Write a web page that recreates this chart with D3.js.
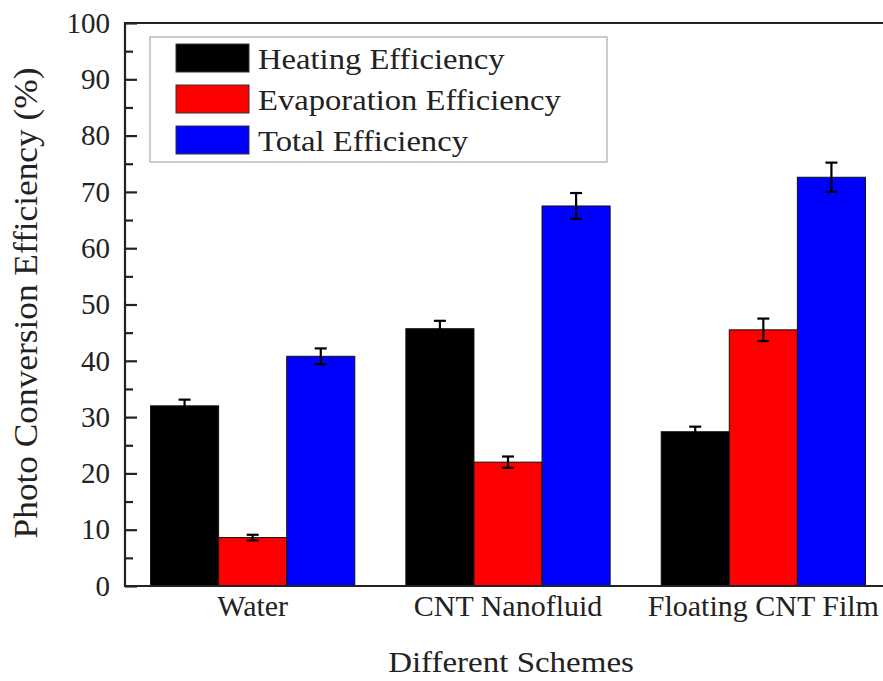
<!DOCTYPE html>
<html>
<head>
<meta charset="utf-8">
<script src="https://cdn.jsdelivr.net/npm/d3@7"></script>
<style>
  html, body { margin: 0; padding: 0; background: #fff; }
  svg { display: block; }
  text { font-family: "Liberation Serif", "Times New Roman", "DejaVu Serif", serif; fill: #222; }
</style>
</head>
<body>
<svg id="chart" width="883" height="681"></svg>
<script>
// Schemes compared and the three efficiency measures
const categories = ["Water", "CNT Nanofluid", "Floating CNT Film"];
const seriesNames = ["Heating Efficiency", "Evaporation Efficiency", "Total Efficiency"];
const seriesColors = ["#000000", "#ff0000", "#0000ff"];

// Mean values (%) per scheme, one array per series
const heating = [32.0, 45.7, 27.4];
const evaporation = [8.6, 22.0, 45.5];
const total = [40.8, 67.5, 72.6];

// Error bar half-widths (%)
const heatingErr = [1.1, 1.4, 0.9];
const evaporationErr = [0.5, 1.0, 2.0];
const totalErr = [1.4, 2.3, 2.6];

const yTicks = [0, 10, 20, 30, 40, 50, 60, 70, 80, 90, 100];
const yMinorTicks = [5, 15, 25, 35, 45, 55, 65, 75, 85, 95];

const values = [heating, evaporation, total];
const errors = [heatingErr, evaporationErr, totalErr];

const SERIF = '"Liberation Serif", "Times New Roman", serif';
const svg = d3.select("#chart");
const margin = { left: 125, top: 23, right: -8, bottom: 95 };
const W = 883, H = 681;
const x0 = margin.left, x1 = W - margin.right;
const yTop = margin.top, yBot = H - margin.bottom;

const x = d3.scaleBand().domain(categories).range([x0, x1])
  .paddingInner(0.2).paddingOuter(0.1);
const xs = d3.scaleBand().domain(d3.range(seriesNames.length)).range([0, x.bandwidth()]);
const y = d3.scaleLinear().domain([0, 100]).range([yBot, yTop]);

// Bars
const groups = svg.append("g").selectAll("g")
  .data(categories).join("g")
  .attr("transform", d => `translate(${x(d)},0)`);

groups.each(function (cat, ci) {
  const g = d3.select(this);
  seriesNames.forEach((s, si) => {
    const v = values[si][ci];
    g.append("rect")
      .attr("x", xs(si))
      .attr("y", y(v))
      .attr("width", xs.bandwidth())
      .attr("height", y(0) - y(v))
      .attr("fill", seriesColors[si])
      .attr("stroke", "#111")
      .attr("stroke-width", 1);
  });
  // Error bars
  seriesNames.forEach((s, si) => {
    const v = values[si][ci], e = errors[si][ci];
    const cx = xs(si) + xs.bandwidth() / 2;
    const eg = g.append("g").attr("stroke", "#000").attr("stroke-width", 2.2);
    eg.append("line").attr("x1", cx).attr("x2", cx).attr("y1", y(v + e)).attr("y2", y(v - e));
    eg.append("line").attr("x1", cx - 6).attr("x2", cx + 6).attr("y1", y(v + e)).attr("y2", y(v + e));
    eg.append("line").attr("x1", cx - 6).attr("x2", cx + 6).attr("y1", y(v - e)).attr("y2", y(v - e));
  });
});

// Frame: left axis, bottom axis, top edge
const frame = svg.append("g").attr("stroke", "#222").attr("stroke-width", 2.2);
frame.append("line").attr("x1", x0).attr("x2", x0).attr("y1", yTop - 1).attr("y2", yBot + 1);
frame.append("line").attr("x1", x0).attr("x2", W).attr("y1", yBot).attr("y2", yBot);
frame.append("line").attr("x1", x0).attr("x2", W).attr("y1", yTop).attr("y2", yTop);

// Y axis with inward ticks
const yAxis = d3.axisLeft(y).tickValues(yTicks).tickSize(-12).tickPadding(15).tickFormat(d3.format("d"));
const yg = svg.append("g").attr("transform", `translate(${x0},0)`).call(yAxis);
yg.select(".domain").remove();
yg.selectAll(".tick line").attr("stroke", "#222").attr("stroke-width", 2.2);
yg.selectAll(".tick text").style("font-size", "29px").attr("fill", "#222")
  .style("font-family", SERIF);

const yMinor = d3.axisLeft(y).tickValues(yMinorTicks).tickSize(-8).tickFormat("");
const ym = svg.append("g").attr("transform", `translate(${x0},0)`).call(yMinor);
ym.select(".domain").remove();
ym.selectAll(".tick line").attr("stroke", "#222").attr("stroke-width", 2.2);

// X axis labels
const xAxis = d3.axisBottom(x).tickSize(0).tickPadding(9);
const xg = svg.append("g").attr("transform", `translate(0,${yBot})`).call(xAxis);
xg.select(".domain").remove();
xg.selectAll(".tick text").style("font-size", "30px").attr("fill", "#222")
  .style("font-family", SERIF);

// Axis titles (type set slightly wide)
svg.append("text")
  .attr("transform", "translate(511,672) scale(1.1,1)")
  .attr("text-anchor", "middle")
  .style("font-size", "30px")
  .text("Different Schemes");

svg.append("text")
  .attr("transform", "translate(37,303) rotate(-90) scale(1.07,1)")
  .attr("text-anchor", "middle")
  .style("font-size", "33px")
  .text("Photo Conversion Efficiency (%)");

// Legend
const legend = svg.append("g");
legend.append("rect")
  .attr("x", 150).attr("y", 37).attr("width", 457).attr("height", 125)
  .attr("fill", "#fff").attr("stroke", "#aaa").attr("stroke-width", 1.2);
seriesNames.forEach((s, i) => {
  const ly = 44 + i * 41;
  legend.append("rect")
    .attr("x", 176).attr("y", ly).attr("width", 73).attr("height", 28)
    .attr("fill", seriesColors[i]).attr("stroke", "#333").attr("stroke-width", 1);
  legend.append("text")
    .attr("transform", `translate(258,${ly + 24.5}) scale(1.088,1)`)
    .style("font-size", "30px")
    .text(s);
});
</script>
</body>
</html>
